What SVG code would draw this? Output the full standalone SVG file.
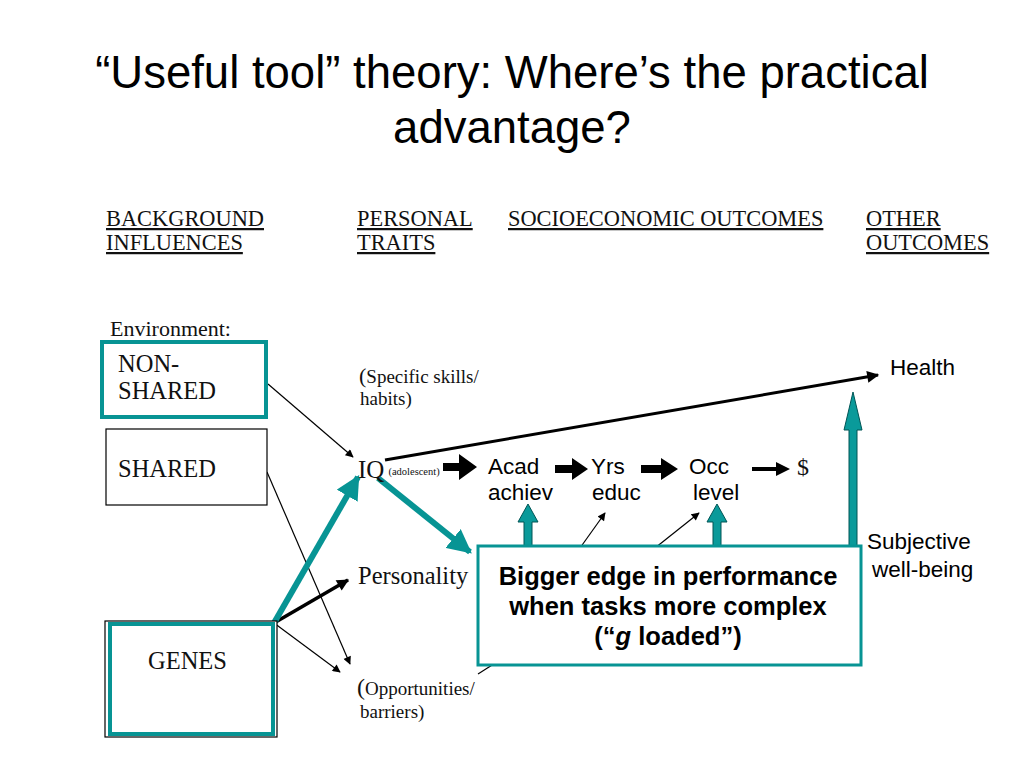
<svg xmlns="http://www.w3.org/2000/svg" width="1024" height="768" viewBox="0 0 1024 768">
<defs>
<style>
.title{font-family:"Liberation Sans",Arial,sans-serif;font-size:45.5px;fill:#000;text-anchor:middle}
.hdr{font-family:"Liberation Serif","Times New Roman",serif;font-size:22.4px;fill:#111;text-decoration:underline}
.tm{font-family:"Liberation Serif","Times New Roman",serif;fill:#111}
.ar{font-family:"Liberation Sans",Arial,sans-serif;fill:#000;font-size:22.5px}
.thin{stroke:#000;stroke-width:1.2;fill:none}
.teal{stroke:#079494;fill:none}
.bx{font-family:"Liberation Sans",Arial,sans-serif;font-size:25.5px;font-weight:bold;fill:#000;text-anchor:middle}
</style>
<marker id="ah" viewBox="0 0 10 10" refX="9" refY="5" markerWidth="10" markerHeight="8" markerUnits="userSpaceOnUse" orient="auto"><path d="M0,0 L10,5 L0,10 z" fill="#000"/></marker>
<marker id="ahm" viewBox="0 0 10 10" refX="9" refY="5" markerWidth="14" markerHeight="12" markerUnits="userSpaceOnUse" orient="auto"><path d="M0,0 L10,5 L0,10 z" fill="#000"/></marker>
<marker id="aht" viewBox="0 0 10 10" refX="9" refY="5" markerWidth="24" markerHeight="24" markerUnits="userSpaceOnUse" orient="auto"><path d="M0,0 L10,5 L0,10 z" fill="#079494"/></marker>
</defs>
<rect width="1024" height="768" fill="#fff"/>
<text class="title" x="512" y="88">“Useful tool” theory: Where’s the practical</text>
<text class="title" x="512" y="143">advantage?</text>

<g id="headers">
<text class="hdr" x="106" y="226">BACKGROUND</text>
<text class="hdr" x="106" y="250">INFLUENCES</text>
<text class="hdr" x="357" y="226">PERSONAL</text>
<text class="hdr" x="357" y="250">TRAITS</text>
<text class="hdr" x="508" y="226">SOCIOECONOMIC OUTCOMES</text>
<text class="hdr" x="866" y="226">OTHER</text>
<text class="hdr" x="866" y="250">OUTCOMES</text>
</g>

<g id="connectors">
<line class="thin" x1="268" y1="384" x2="353" y2="457" marker-end="url(#ah)"/>
<line class="thin" x1="267" y1="472" x2="350" y2="664" marker-end="url(#ah)"/>
<line class="thin" x1="274" y1="623" x2="340" y2="672" marker-end="url(#ah)"/>
<line x1="274" y1="623" x2="348" y2="580" stroke="#000" stroke-width="3.5" marker-end="url(#ahm)"/>
<line class="teal" x1="274" y1="623" x2="358" y2="477" stroke-width="6" marker-end="url(#aht)"/>
<line x1="385" y1="460" x2="878" y2="375" stroke="#000" stroke-width="3" marker-end="url(#ahm)"/>
<line class="teal" x1="378" y1="478" x2="470" y2="552" stroke-width="6" marker-end="url(#aht)"/>
<path d="M443,463 h16 v-9 l18,13 l-18,13 v-9 h-16 z" fill="#000"/>
<path d="M555,465 h17 v-7 l16,11 l-16,11 v-7 h-17 z" fill="#000"/>
<path d="M641,465 h20 v-7 l17,11 l-17,11 v-7 h-20 z" fill="#000"/>
<path d="M752,467 h24 v-5 l14,7 l-14,7 v-5 h-24 z" fill="#000"/>
<line class="thin" x1="580" y1="548" x2="605" y2="513" marker-end="url(#ah)"/>
<line class="thin" x1="655" y1="548" x2="699" y2="513" marker-end="url(#ah)"/>
<line class="thin" x1="478" y1="674" x2="500" y2="660"/>
<path d="M524,548 v-26 h-6 l10,-18 l10,18 h-6 v26 z" fill="#0a9a9a" stroke="#055" stroke-width="1"/>
<path d="M713,548 v-26 h-6 l10,-18 l10,18 h-6 v26 z" fill="#0a9a9a" stroke="#055" stroke-width="1"/>
<path d="M849,548 v-118 h-5 l9,-38 l9,38 h-5 v118 z" fill="#0a9a9a" stroke="#055" stroke-width="1"/>
</g>

<g id="nonshared">
<text class="tm" x="110" y="336" font-size="22">Environment:</text>
<rect x="102" y="342" width="164" height="75" fill="#fff" stroke="#079494" stroke-width="4"/>
<text class="tm" x="118" y="372" font-size="24.5">NON-</text>
<text class="tm" x="118" y="399" font-size="24.5">SHARED</text>
</g>
<g id="shared">
<rect x="106" y="429" width="161" height="76" fill="#fff" stroke="#000" stroke-width="1.2"/>
<text class="tm" x="118" y="477" font-size="24.5">SHARED</text>
</g>
<g id="genes">
<rect x="105" y="621" width="172" height="116" fill="#fff" stroke="#000" stroke-width="1.2"/>
<rect x="110" y="624" width="163" height="110" fill="#fff" stroke="#079494" stroke-width="4"/>
<text class="tm" x="148" y="669" font-size="24.5">GENES</text>
</g>

<g id="traits">
<text class="tm" x="359" y="383" font-size="19"><tspan font-size="22">(</tspan>Specific skills/</text>
<text class="tm" x="360" y="405" font-size="19">habits)</text>
<text class="tm" x="358" y="478" font-size="25">IQ<tspan font-size="10.5" dx="4" dy="-3">(adolescent)</tspan></text>
<text class="tm" x="358" y="584" font-size="24.5">Personality</text>
<text class="tm" x="357" y="695" font-size="19"><tspan font-size="24">(</tspan>Opportunities/</text>
<text class="tm" x="360" y="718" font-size="19">barriers)</text>
</g>

<g id="outcomes">
<text class="ar" x="488" y="474">Acad</text>
<text class="ar" x="488" y="500">achiev</text>
<text class="ar" x="591" y="474">Yrs</text>
<text class="ar" x="592" y="500">educ</text>
<text class="ar" x="689" y="474">Occ</text>
<text class="ar" x="693" y="500">level</text>
<text class="tm" x="797" y="475" font-size="24">$</text>
<text class="ar" x="890" y="375">Health</text>
<text class="ar" x="867" y="549">Subjective</text>
<text class="ar" x="872" y="577">well-being</text>
</g>

<g id="callout">
<rect x="478" y="546" width="383" height="119" fill="#fff" stroke="#079494" stroke-width="3"/>
<text class="bx" x="668" y="585">Bigger edge in performance</text>
<text class="bx" x="668" y="615">when tasks more complex</text>
<text class="bx" x="668" y="645">(“<tspan font-style="italic">g</tspan> loaded”)</text>
</g>
</svg>
